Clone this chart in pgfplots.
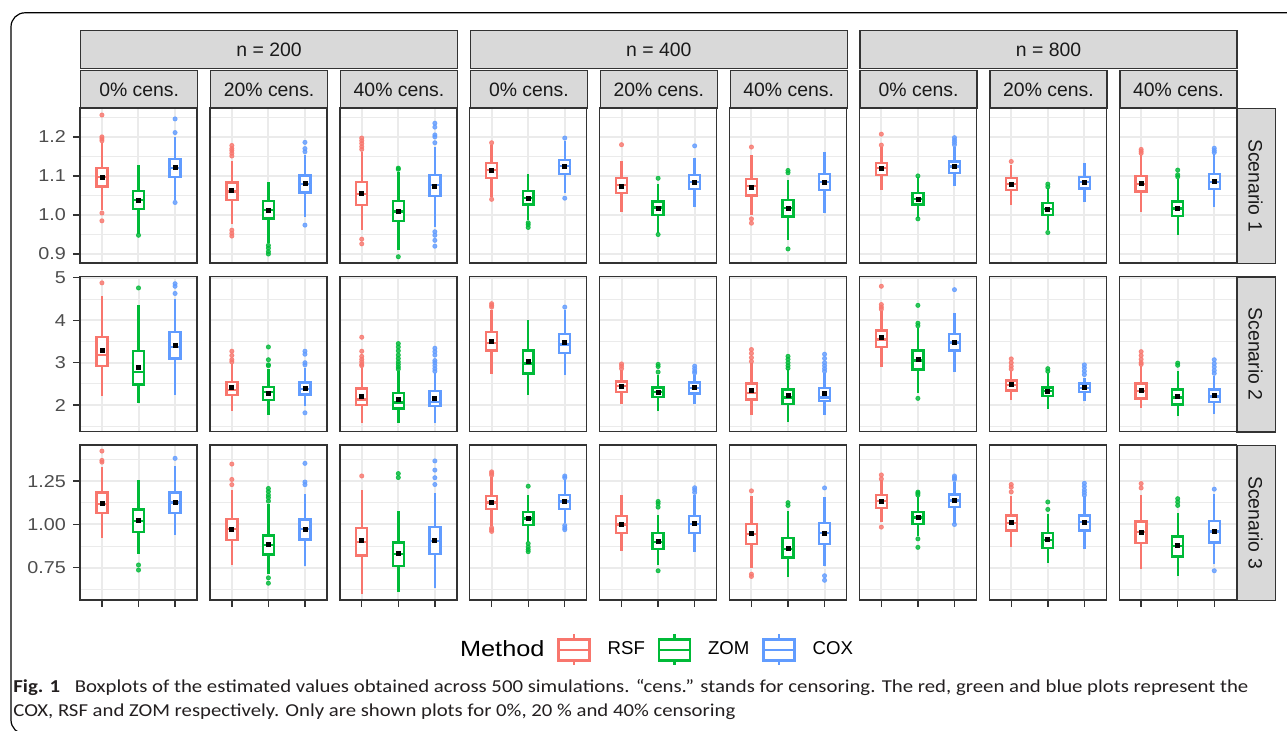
\documentclass[border=0pt]{standalone}
\usepackage{pgfplots}
\pgfplotsset{compat=1.18}
\usepgfplotslibrary{statistics}
\usepackage{graphicx}
\usepackage{fontspec}
\setmainfont{Liberation Sans}
\newfontfamily\capfont{Carlito}
\newfontfamily\widefont{Liberation Sans}[FakeStretch=1.15]
\definecolor{rsfc}{HTML}{F8766D}
\definecolor{zomc}{HTML}{00BA38}
\definecolor{coxc}{HTML}{619CFF}
\definecolor{gridc}{HTML}{EBEBEB}
\definecolor{bordc}{HTML}{333333}
\definecolor{stripc}{HTML}{D9D9D9}
\definecolor{tickc}{HTML}{4D4D4D}
\definecolor{striptxt}{HTML}{1A1A1A}
\definecolor{capc}{HTML}{231F20}
\pgfplotsset{
 panel/.style={scale only axis, width=58.5pt, height=77.5pt, anchor=north west,
   xmin=0.4, xmax=3.6, xtick={1,2,3}, xticklabels={},
   xmajorgrids, ymajorgrids, yminorgrids,
   major grid style={draw=gridc, line width=1pt},
   minor grid style={draw=gridc, line width=0.5pt},
   minor tick length=0pt, major tick length=3.5pt, tick align=outside,
   xtick pos=bottom, ytick pos=left,
   axis line style={draw=bordc, line width=0.7pt},
   xtick style={draw=none}, ytick style={draw=none},
   yticklabels={},
   tick label style={font=\widefont\fontsize{8.6}{10}\selectfont, text=tickc},
 },
 r1/.style={ymin=0.877, ymax=1.274, ytick={0.9,1,1.1,1.2}, minor ytick={0.95,1.05,1.15,1.25}},
 r2/.style={ymin=1.38, ymax=5.03, ytick={2,3,4,5}, minor ytick={1.5,2.5,3.5,4.5}},
 r3/.style={ymin=0.564, ymax=1.459, ytick={0.75,1,1.25}, minor ytick={0.625,0.875,1.125,1.375}},
 ylab1/.style={ytick style={draw=bordc, line width=0.7pt}, yticklabels={0.9,1.0,1.1,1.2}},
 ylab2/.style={ytick style={draw=bordc, line width=0.7pt}, yticklabels={2,3,4,5}},
 ylab3/.style={ytick style={draw=bordc, line width=0.7pt}, yticklabels={0.75,1.00,1.25}},
 xt/.style={xtick style={draw=bordc, line width=0.7pt}},
 rsfb/.style={draw=rsfc, fill=white, line width=1.2pt, mark=none, solid},
 zomb/.style={draw=zomc, fill=white, line width=1.2pt, mark=none, solid},
 coxb/.style={draw=coxc, fill=white, line width=1.2pt, mark=none, solid},
 outl/.style={only marks, mark=*, mark size=1.05pt, color=#1, opacity=0.8},
 meanp/.style={only marks, mark=square*, mark size=1pt, color=black},
}
\newcommand{\bx}[7]{\addplot[#1, boxplot/draw direction=y, boxplot prepared={draw position=#2, lower whisker=#3, lower quartile=#4, median=#5, upper quartile=#6, upper whisker=#7, box extend=0.3, whisker extend=0, draw direction=y}] coordinates {};}
\newcommand{\legbox}[1]{\draw[#1,line width=1.1pt,fill=white] (0pt,-5.25pt) rectangle (15.5pt,5.25pt); \draw[#1,line width=1.1pt] (0pt,0pt)--(15.5pt,0pt) (7.75pt,5.25pt)--(7.75pt,7.75pt) (7.75pt,-5.25pt)--(7.75pt,-7.75pt);}
\tikzset{strip/.style={draw=bordc, line width=0.7pt, fill=stripc, inner sep=0pt, text=striptxt, font=\fontsize{9.7}{10}\selectfont}}
\begin{document}
\begin{tikzpicture}
\useasboundingbox (0,0) rectangle (643.5pt,-365.5pt);
\draw[black, line width=0.6pt, rounded corners=7pt] (5.5pt,-6.4pt) rectangle (652pt,-367pt);
% strips
\foreach \xx/\lab in {40/200, 234.85/400, 429.7/800}{
  \node[strip, minimum width=188.4pt, minimum height=19pt, anchor=north west] at (\xx pt,-15pt) {n = \lab};
}
\foreach \xx/\lab in {40/0, 104.95/20, 169.9/40, 234.85/0, 299.8/20, 364.75/40, 429.7/0, 494.65/20, 559.6/40}{
  \node[strip, minimum width=58.5pt, minimum height=19pt, anchor=north west] at (\xx pt,-35pt) {\lab\% cens.};
}
\foreach \yy/\lab in {-54/1, -138.25/2, -222.5/3}{
  \node[strip, minimum width=19.4pt, minimum height=77.5pt, anchor=north west] at (618.1pt,\yy pt) {};
  \node[rotate=-90, font=\fontsize{9.7}{10}\selectfont, text=striptxt] at (627.8pt,\yy pt-38.75pt) {Scenario \lab};
}
% ===== Row 1 =====
\begin{axis}[panel,r1,ylab1,at={(40pt,-54pt)}]
\bx{rsfb}{1}{1.013}{1.073}{1.098}{1.120}{1.184}
\bx{zomb}{2}{0.952}{1.015}{1.038}{1.062}{1.128}
\bx{coxb}{3}{1.038}{1.098}{1.121}{1.144}{1.200}
\addplot[outl=rsfc] coordinates {(1,1.256)(1,1.200)(1,1.195)(1,1.190)(1,1.005)(1,0.985)};
\addplot[outl=zomc] coordinates {(2,0.948)};
\addplot[outl=coxc] coordinates {(3,1.246)(3,1.211)(3,1.032)};
\addplot[meanp] coordinates {(1,1.097)(2,1.038)(3,1.121)};
\end{axis}
\begin{axis}[panel,r1,at={(104.95pt,-54pt)}]
\bx{rsfb}{1}{0.977}{1.038}{1.060}{1.083}{1.137}
\bx{zomb}{2}{0.927}{0.991}{1.013}{1.036}{1.085}
\bx{coxb}{3}{0.996}{1.058}{1.079}{1.101}{1.154}
\addplot[outl=rsfc] coordinates {(1,1.178)(1,1.170)(1,1.165)(1,1.158)(1,1.151)(1,0.961)(1,0.953)(1,0.946)};
\addplot[outl=zomc] coordinates {(2,0.922)(2,0.915)(2,0.906)(2,0.900)};
\addplot[outl=coxc] coordinates {(3,1.186)(3,1.170)(3,1.162)(3,0.974)};
\addplot[meanp] coordinates {(1,1.062)(2,1.012)(3,1.080)};
\end{axis}
\begin{axis}[panel,r1,at={(169.9pt,-54pt)}]
\bx{rsfb}{1}{0.962}{1.026}{1.053}{1.084}{1.162}
\bx{zomb}{2}{0.910}{0.985}{1.009}{1.036}{1.109}
\bx{coxb}{3}{0.970}{1.049}{1.076}{1.103}{1.175}
\addplot[outl=rsfc] coordinates {(1,1.197)(1,1.190)(1,1.183)(1,1.175)(1,1.168)(1,0.938)(1,0.926)};
\addplot[outl=zomc] coordinates {(2,1.120)(2,1.117)(2,0.893)};
\addplot[outl=coxc] coordinates {(3,1.235)(3,1.225)(3,1.205)(3,1.200)(3,1.185)(3,0.957)(3,0.948)(3,0.935)(3,0.920)};
\addplot[meanp] coordinates {(1,1.054)(2,1.009)(3,1.074)};
\end{axis}
\begin{axis}[panel,r1,at={(234.85pt,-54pt)}]
\bx{rsfb}{1}{1.047}{1.094}{1.115}{1.133}{1.180}
\bx{zomb}{2}{0.987}{1.027}{1.044}{1.062}{1.105}
\bx{coxb}{3}{1.057}{1.105}{1.126}{1.141}{1.189}
\addplot[outl=rsfc] coordinates {(1,1.185)(1,1.040)};
\addplot[outl=zomc] coordinates {(2,0.980)(2,0.975)(2,0.968)};
\addplot[outl=coxc] coordinates {(3,1.197)(3,1.043)};
\addplot[meanp] coordinates {(1,1.113)(2,1.043)(3,1.124)};
\end{axis}
\begin{axis}[panel,r1,at={(299.8pt,-54pt)}]
\bx{rsfb}{1}{1.008}{1.056}{1.077}{1.094}{1.138}
\bx{zomb}{2}{0.953}{1.000}{1.019}{1.034}{1.079}
\bx{coxb}{3}{1.020}{1.066}{1.085}{1.103}{1.145}
\addplot[outl=rsfc] coordinates {(1,1.180)};
\addplot[outl=zomc] coordinates {(2,1.094)(2,0.950)};
\addplot[outl=coxc] coordinates {(3,1.177)};
\addplot[meanp] coordinates {(1,1.074)(2,1.018)(3,1.084)};
\end{axis}
\begin{axis}[panel,r1,at={(364.75pt,-54pt)}]
\bx{rsfb}{1}{1.000}{1.050}{1.074}{1.092}{1.154}
\bx{zomb}{2}{0.936}{0.996}{1.018}{1.038}{1.090}
\bx{coxb}{3}{1.004}{1.064}{1.085}{1.105}{1.161}
\addplot[outl=rsfc] coordinates {(1,1.174)(1,0.990)(1,0.979)};
\addplot[outl=zomc] coordinates {(2,1.114)(2,1.108)(2,0.913)};
\addplot[meanp] coordinates {(1,1.071)(2,1.017)(3,1.084)};
\end{axis}
\begin{axis}[panel,r1,at={(429.7pt,-54pt)}]
\bx{rsfb}{1}{1.064}{1.103}{1.120}{1.133}{1.175}
\bx{zomb}{2}{0.992}{1.027}{1.041}{1.056}{1.098}
\bx{coxb}{3}{1.075}{1.107}{1.124}{1.137}{1.174}
\addplot[outl=rsfc] coordinates {(1,1.207)(1,1.179)};
\addplot[outl=zomc] coordinates {(2,1.100)(2,0.990)};
\addplot[outl=coxc] coordinates {(3,1.198)(3,1.192)(3,1.186)(3,1.180)};
\addplot[meanp] coordinates {(1,1.118)(2,1.041)(3,1.124)};
\end{axis}
\begin{axis}[panel,r1,at={(494.65pt,-54pt)}]
\bx{rsfb}{1}{1.026}{1.064}{1.080}{1.094}{1.129}
\bx{zomb}{2}{0.962}{1.000}{1.016}{1.030}{1.069}
\bx{coxb}{3}{1.032}{1.068}{1.084}{1.098}{1.133}
\addplot[outl=rsfc] coordinates {(1,1.137)};
\addplot[outl=zomc] coordinates {(2,1.079)(2,1.072)(2,0.955)};
\addplot[meanp] coordinates {(1,1.079)(2,1.015)(3,1.084)};
\end{axis}
\begin{axis}[panel,r1,at={(559.6pt,-54pt)}]
\bx{rsfb}{1}{1.008}{1.060}{1.080}{1.100}{1.154}
\bx{zomb}{2}{0.949}{0.997}{1.017}{1.034}{1.093}
\bx{coxb}{3}{1.021}{1.066}{1.085}{1.105}{1.156}
\addplot[outl=rsfc] coordinates {(1,1.168)(1,1.163)(1,1.158)};
\addplot[outl=zomc] coordinates {(2,1.115)(2,1.103)(2,1.098)};
\addplot[outl=coxc] coordinates {(3,1.171)(3,1.165)(3,1.160)};
\addplot[meanp] coordinates {(1,1.080)(2,1.017)(3,1.085)};
\end{axis}
% ===== Row 2 =====
\begin{axis}[panel,r2,ylab2,at={(40pt,-138.25pt)}]
\bx{rsfb}{1}{2.21}{2.92}{3.18}{3.60}{4.56}
\bx{zomb}{2}{2.04}{2.49}{2.78}{3.27}{4.37}
\bx{coxb}{3}{2.25}{3.10}{3.37}{3.72}{4.49}
\addplot[outl=rsfc] coordinates {(1,4.88)};
\addplot[outl=zomc] coordinates {(2,4.76)};
\addplot[outl=coxc] coordinates {(3,4.86)(3,4.80)(3,4.63)};
\addplot[meanp] coordinates {(1,3.29)(2,2.90)(3,3.41)};
\end{axis}
\begin{axis}[panel,r2,at={(104.95pt,-138.25pt)}]
\bx{rsfb}{1}{1.86}{2.24}{2.36}{2.55}{2.96}
\bx{zomb}{2}{1.77}{2.12}{2.31}{2.43}{2.84}
\bx{coxb}{3}{1.98}{2.25}{2.38}{2.53}{2.88}
\addplot[outl=rsfc] coordinates {(1,3.27)(1,3.17)(1,3.07)(1,3.02)};
\addplot[outl=zomc] coordinates {(2,3.37)(2,3.07)(2,2.95)(2,2.93)};
\addplot[outl=coxc] coordinates {(3,3.27)(3,3.20)(3,3.00)(3,2.95)(3,1.82)};
\addplot[meanp] coordinates {(1,2.41)(2,2.28)(3,2.40)};
\end{axis}
\begin{axis}[panel,r2,at={(169.9pt,-138.25pt)}]
\bx{rsfb}{1}{1.59}{2.00}{2.13}{2.39}{2.88}
\bx{zomb}{2}{1.57}{1.92}{2.06}{2.29}{2.80}
\bx{coxb}{3}{1.59}{1.98}{2.08}{2.33}{2.75}
\addplot[outl=rsfc] coordinates {(1,3.60)(1,3.27)(1,3.15)(1,3.08)(1,3.02)(1,2.96)(1,2.93)};
\addplot[outl=zomc] coordinates {(2,3.45)(2,3.37)(2,3.28)(2,3.18)(2,3.10)(2,3.02)(2,2.96)(2,2.90)(2,2.85)};
\addplot[outl=coxc] coordinates {(3,3.34)(3,3.26)(3,3.18)(3,3.05)(3,3.00)(3,2.93)(3,2.86)(3,2.80)};
\addplot[meanp] coordinates {(1,2.21)(2,2.13)(3,2.17)};
\end{axis}
\begin{axis}[panel,r2,at={(234.85pt,-138.25pt)}]
\bx{rsfb}{1}{2.74}{3.29}{3.46}{3.72}{4.25}
\bx{zomb}{2}{2.25}{2.75}{2.98}{3.29}{4.00}
\bx{coxb}{3}{2.70}{3.23}{3.43}{3.68}{4.25}
\addplot[outl=rsfc] coordinates {(1,4.39)(1,4.35)(1,4.31)};
\addplot[outl=coxc] coordinates {(3,4.31)};
\addplot[meanp] coordinates {(1,3.50)(2,3.02)(3,3.47)};
\end{axis}
\begin{axis}[panel,r2,at={(299.8pt,-138.25pt)}]
\bx{rsfb}{1}{2.03}{2.31}{2.45}{2.56}{2.82}
\bx{zomb}{2}{1.86}{2.19}{2.31}{2.42}{2.70}
\bx{coxb}{3}{2.03}{2.27}{2.41}{2.53}{2.72}
\addplot[outl=rsfc] coordinates {(1,2.97)(1,2.92)(1,2.86)};
\addplot[outl=zomc] coordinates {(2,2.96)(2,2.91)(2,2.78)};
\addplot[outl=coxc] coordinates {(3,2.92)(3,2.86)(3,2.80)(3,2.76)};
\addplot[meanp] coordinates {(1,2.45)(2,2.31)(3,2.41)};
\end{axis}
\begin{axis}[panel,r2,at={(364.75pt,-138.25pt)}]
\bx{rsfb}{1}{1.77}{2.13}{2.28}{2.51}{3.00}
\bx{zomb}{2}{1.61}{2.03}{2.18}{2.37}{2.84}
\bx{coxb}{3}{1.78}{2.10}{2.18}{2.41}{2.76}
\addplot[outl=rsfc] coordinates {(1,3.31)(1,3.22)(1,3.12)(1,3.03)};
\addplot[outl=zomc] coordinates {(2,3.15)(2,3.08)(2,3.00)(2,2.93)(2,2.87)};
\addplot[outl=coxc] coordinates {(3,3.20)(3,3.10)(3,3.00)(3,2.93)(3,2.86)(3,2.80)};
\addplot[meanp] coordinates {(1,2.35)(2,2.23)(3,2.27)};
\end{axis}
\begin{axis}[panel,r2,at={(429.7pt,-138.25pt)}]
\bx{rsfb}{1}{2.89}{3.37}{3.55}{3.76}{4.21}
\bx{zomb}{2}{2.29}{2.84}{3.05}{3.29}{3.82}
\bx{coxb}{3}{2.78}{3.29}{3.48}{3.68}{4.17}
\addplot[outl=rsfc] coordinates {(1,4.80)(1,4.37)(1,4.31)(1,4.26)};
\addplot[outl=zomc] coordinates {(2,4.35)(2,3.93)(2,3.87)(2,2.16)};
\addplot[outl=coxc] coordinates {(3,4.72)};
\addplot[meanp] coordinates {(1,3.59)(2,3.07)(3,3.48)};
\end{axis}
\begin{axis}[panel,r2,at={(494.65pt,-138.25pt)}]
\bx{rsfb}{1}{2.13}{2.35}{2.48}{2.58}{2.80}
\bx{zomb}{2}{1.90}{2.21}{2.33}{2.42}{2.76}
\bx{coxb}{3}{2.09}{2.31}{2.41}{2.51}{2.65}
\addplot[outl=rsfc] coordinates {(1,3.09)(1,3.00)(1,2.92)(1,2.85)};
\addplot[outl=zomc] coordinates {(2,2.86)(2,2.80)};
\addplot[outl=coxc] coordinates {(3,2.95)(3,2.88)(3,2.80)(3,2.72)};
\addplot[meanp] coordinates {(1,2.49)(2,2.33)(3,2.41)};
\end{axis}
\begin{axis}[panel,r2,at={(559.6pt,-138.25pt)}]
\bx{rsfb}{1}{1.94}{2.16}{2.33}{2.51}{2.92}
\bx{zomb}{2}{1.74}{2.02}{2.18}{2.37}{2.80}
\bx{coxb}{3}{1.79}{2.08}{2.20}{2.37}{2.69}
\addplot[outl=rsfc] coordinates {(1,3.26)(1,3.17)(1,3.08)(1,3.00)(1,2.96)};
\addplot[outl=zomc] coordinates {(2,2.99)(2,2.94)};
\addplot[outl=coxc] coordinates {(3,3.07)(3,2.98)(3,2.90)(3,2.82)(3,2.75)};
\addplot[meanp] coordinates {(1,2.35)(2,2.20)(3,2.24)};
\end{axis}
% ===== Row 3 =====
\begin{axis}[panel,r3,ylab3,xt,at={(40pt,-222.5pt)}]
\bx{rsfb}{1}{0.922}{1.066}{1.120}{1.184}{1.333}
\bx{zomb}{2}{0.830}{0.955}{1.020}{1.087}{1.256}
\bx{coxb}{3}{0.942}{1.066}{1.128}{1.184}{1.337}
\addplot[outl=rsfc] coordinates {(1,1.424)(1,1.370)(1,1.360)};
\addplot[outl=zomc] coordinates {(2,0.766)(2,0.737)};
\addplot[outl=coxc] coordinates {(3,1.382)};
\addplot[meanp] coordinates {(1,1.124)(2,1.023)(3,1.130)};
\end{axis}
\begin{axis}[panel,r3,xt,at={(104.95pt,-222.5pt)}]
\bx{rsfb}{1}{0.766}{0.911}{0.975}{1.033}{1.202}
\bx{zomb}{2}{0.713}{0.826}{0.880}{0.936}{1.120}
\bx{coxb}{3}{0.762}{0.913}{0.975}{1.029}{1.178}
\addplot[outl=rsfc] coordinates {(1,1.349)(1,1.260)(1,1.230)};
\addplot[outl=zomc] coordinates {(2,1.208)(2,1.190)(2,1.170)(2,1.155)(2,1.135)(2,0.692)(2,0.661)};
\addplot[outl=coxc] coordinates {(3,1.353)(3,1.245)(3,1.230)};
\addplot[meanp] coordinates {(1,0.971)(2,0.884)(3,0.971)};
\end{axis}
\begin{axis}[panel,r3,xt,at={(169.9pt,-222.5pt)}]
\bx{rsfb}{1}{0.600}{0.820}{0.900}{0.981}{1.198}
\bx{zomb}{2}{0.610}{0.762}{0.830}{0.897}{1.076}
\bx{coxb}{3}{0.635}{0.830}{0.905}{0.984}{1.184}
\addplot[outl=rsfc] coordinates {(1,1.280)};
\addplot[outl=zomc] coordinates {(2,1.294)(2,1.271)};
\addplot[outl=coxc] coordinates {(3,1.367)(3,1.314)(3,1.270)(3,1.231)};
\addplot[meanp] coordinates {(1,0.907)(2,0.833)(3,0.911)};
\end{axis}
\begin{axis}[panel,r3,xt,at={(234.85pt,-222.5pt)}]
\bx{rsfb}{1}{0.994}{1.091}{1.128}{1.163}{1.276}
\bx{zomb}{2}{0.901}{0.998}{1.035}{1.072}{1.169}
\bx{coxb}{3}{1.010}{1.091}{1.132}{1.169}{1.255}
\addplot[outl=rsfc] coordinates {(1,1.304)(1,1.295)(1,1.285)(1,0.980)(1,0.970)(1,0.960)};
\addplot[outl=zomc] coordinates {(2,1.221)(2,0.890)(2,0.870)(2,0.855)(2,0.843)};
\addplot[outl=coxc] coordinates {(3,1.280)(3,1.270)(3,0.994)(3,0.980)(3,0.970)};
\addplot[meanp] coordinates {(1,1.130)(2,1.037)(3,1.134)};
\end{axis}
\begin{axis}[panel,r3,xt,at={(299.8pt,-222.5pt)}]
\bx{rsfb}{1}{0.849}{0.952}{1.000}{1.048}{1.173}
\bx{zomb}{2}{0.765}{0.859}{0.900}{0.950}{1.056}
\bx{coxb}{3}{0.839}{0.952}{1.004}{1.048}{1.169}
\addplot[outl=zomc] coordinates {(2,1.133)(2,1.120)(2,1.100)(2,0.733)};
\addplot[outl=coxc] coordinates {(3,1.212)(3,1.200)(3,1.185)};
\addplot[meanp] coordinates {(1,0.998)(2,0.905)(3,1.004)};
\end{axis}
\begin{axis}[panel,r3,xt,at={(364.75pt,-222.5pt)}]
\bx{rsfb}{1}{0.746}{0.888}{0.945}{1.004}{1.163}
\bx{zomb}{2}{0.694}{0.810}{0.860}{0.923}{1.076}
\bx{coxb}{3}{0.762}{0.888}{0.950}{1.008}{1.159}
\addplot[outl=rsfc] coordinates {(1,1.194)(1,0.713)(1,0.700)};
\addplot[outl=zomc] coordinates {(2,1.126)(2,1.110)};
\addplot[outl=coxc] coordinates {(3,1.211)(3,0.704)(3,0.678)};
\addplot[meanp] coordinates {(1,0.946)(2,0.862)(3,0.951)};
\end{axis}
\begin{axis}[panel,r3,xt,at={(429.7pt,-222.5pt)}]
\bx{rsfb}{1}{1.017}{1.095}{1.134}{1.169}{1.255}
\bx{zomb}{2}{0.932}{1.004}{1.040}{1.072}{1.160}
\bx{coxb}{3}{1.004}{1.101}{1.138}{1.173}{1.246}
\addplot[outl=rsfc] coordinates {(1,1.286)(1,1.263)(1,0.985)};
\addplot[outl=zomc] coordinates {(2,1.187)(2,1.180)(2,1.170)(2,0.917)(2,0.868)};
\addplot[outl=coxc] coordinates {(3,1.280)(3,1.270)(3,1.260)(3,1.000)};
\addplot[meanp] coordinates {(1,1.134)(2,1.042)(3,1.138)};
\end{axis}
\begin{axis}[panel,r3,xt,at={(494.65pt,-222.5pt)}]
\bx{rsfb}{1}{0.868}{0.965}{1.010}{1.052}{1.163}
\bx{zomb}{2}{0.775}{0.865}{0.910}{0.952}{1.062}
\bx{coxb}{3}{0.858}{0.965}{1.013}{1.052}{1.163}
\addplot[outl=rsfc] coordinates {(1,1.231)(1,1.215)(1,1.188)};
\addplot[outl=zomc] coordinates {(2,1.130)(2,1.087)};
\addplot[outl=coxc] coordinates {(3,1.238)(3,1.220)(3,1.200)(3,1.185)(3,1.170)};
\addplot[meanp] coordinates {(1,1.010)(2,0.915)(3,1.013)};
\end{axis}
\begin{axis}[panel,r3,xt,at={(559.6pt,-222.5pt)}]
\bx{rsfb}{1}{0.742}{0.894}{0.955}{1.017}{1.173}
\bx{zomb}{2}{0.703}{0.816}{0.875}{0.930}{1.068}
\bx{coxb}{3}{0.771}{0.897}{0.959}{1.019}{1.178}
\addplot[outl=rsfc] coordinates {(1,1.236)(1,1.211)};
\addplot[outl=zomc] coordinates {(2,1.149)(2,1.130)(2,1.110)};
\addplot[outl=coxc] coordinates {(3,1.204)(3,0.733)};
\addplot[meanp] coordinates {(1,0.955)(2,0.878)(3,0.959)};
\end{axis}
% ===== Legend =====
\begin{axis}[hide axis, scale only axis, width=2pt, height=2pt, xmin=0, xmax=1, ymin=0, ymax=1,
  at={(325pt,-325pt)}, anchor=center,
  legend columns=-1,
  legend style={at={(0.5,0.5)}, anchor=center, draw=none, fill=none,
    font=\fontsize{9.3}{10}\selectfont,
    /tikz/every odd column/.append style={column sep=6.5pt},
    /tikz/every even column/.append style={column sep=4.5pt}}]
\addlegendimage{empty legend}
\addlegendentry{\widefont\fontsize{11}{12}\selectfont Method}
\addlegendimage{legend image code/.code={\legbox{rsfc}}}
\addlegendentry{RSF}
\addlegendimage{legend image code/.code={\legbox{zomc}}}
\addlegendentry{ZOM}
\addlegendimage{legend image code/.code={\legbox{coxc}}}
\addlegendentry{COX}
\end{axis}
% ===== Caption =====
\node[anchor=base west, inner sep=0pt, text=capc] at (6.5pt,-346.5pt) {\resizebox{617.5pt}{\height}{\capfont\fontsize{9.1}{10}\selectfont\textbf{Fig. 1}\hspace{0.7em}Boxplots of the estimated values obtained across 500 simulations. “cens.” stands for censoring. The red, green and blue plots represent the}};
\node[anchor=base west, inner sep=0pt, text=capc] at (6.5pt,-358.5pt) {\resizebox{361pt}{\height}{\capfont\fontsize{9.1}{10}\selectfont COX, RSF and ZOM respectively. Only are shown plots for 0\%, 20 \% and 40\% censoring}};
\end{tikzpicture}
\end{document}
